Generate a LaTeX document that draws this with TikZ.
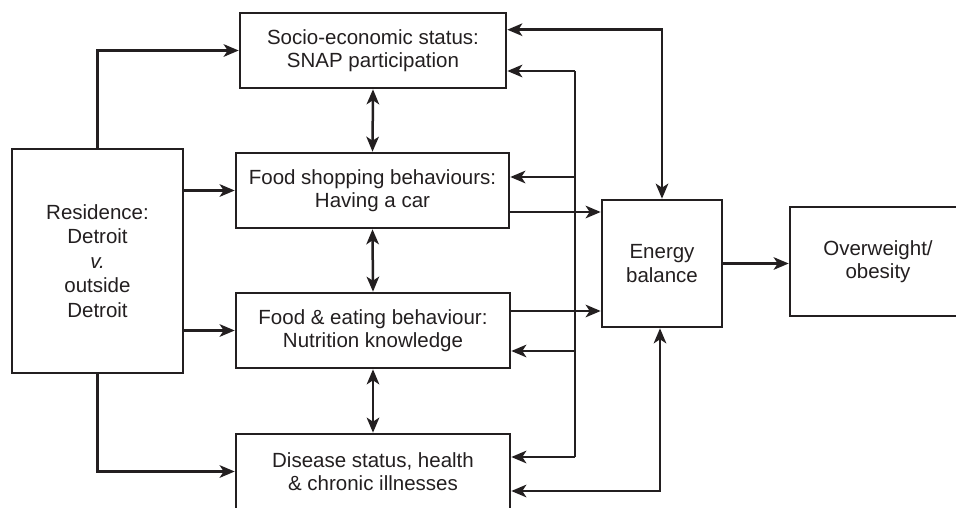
\documentclass[tikz,border=0pt]{standalone}
\usepackage{fontspec}
\setmainfont{Liberation Sans}
\usetikzlibrary{arrows.meta}
\definecolor{ink}{HTML}{231F20}
\begin{document}
\begin{tikzpicture}[x=1pt,y=-1pt,
  box/.style={draw=ink, line width=2.6pt, rectangle, align=center, text=ink,
    inner sep=0pt, font=\fontsize{20.5}{23.5}\selectfont},
  conn/.style={draw=ink, line width=2.5pt},
  tip/.style={-{Stealth[length=15pt,width=12.5pt,inset=4pt]}},
  tips/.style={{Stealth[length=15pt,width=12.5pt,inset=4pt]}-{Stealth[length=15pt,width=12.5pt,inset=4pt]}}]
\useasboundingbox (0,0) rectangle (956,507);
\clip (0,0) rectangle (956,507);
\fill[white] (0,0) rectangle (956,507);

\node[box, minimum width=266pt, minimum height=75pt] (ses) at (373,50.5) {Socio-economic status:\\SNAP participation};
\node[box, minimum width=273pt, minimum height=75pt] (fsb) at (372.5,190.5) {Food shopping behaviours:\\Having a car};
\node[box, minimum width=274pt, minimum height=75pt] (feb) at (373,330.5) {Food \& eating behaviour:\\Nutrition knowledge};
\node[box, minimum width=274pt, minimum height=75pt] (dis) at (373,471.5) {Disease status, health\\\& chronic illnesses};
\node[box, minimum width=171pt, minimum height=224pt, font=\fontsize{20.5}{24.5}\selectfont] (res) at (97.5,261) {Residence:\\Detroit\\\textit{v.}\\outside\\Detroit};
\node[box, minimum width=120pt, minimum height=127pt] (eb) at (662,263.5) {Energy\\balance};
\node[box, minimum width=176pt, minimum height=109pt] (ow) at (878,261.5) {Overweight/\\obesity};

% residence to the four boxes
\draw[conn, tip] (res.north) |- (ses.west);
\draw[conn, tip] (res.east |- fsb.west) -- (fsb.west);
\draw[conn, tip] (res.east |- feb.west) -- (feb.west);
\draw[conn, tip] (res.south) |- (dis.west);

% between the stacked boxes
\draw[conn, tips] (ses.south) -- (fsb.north);
\draw[conn, tips] (fsb.south) -- (feb.north);
\draw[conn, tips] (feb.south) -- (dis.north);

% SES <-> energy balance
\coordinate (s1) at ([yshift=-18pt]ses.north east);
\draw[conn, tips] (s1) -| (eb.north);

% vertical bus
\coordinate (b1) at (575,71);
\coordinate (b2) at (575,177);
\coordinate (b3) at (575,351);
\coordinate (b4) at (575,457);
\draw[conn] (b1) -- (b4);
\draw[conn, tip] (b1) -- (b1 -| ses.east);
\draw[conn, tip] (b2) -- (b2 -| fsb.east);
\draw[conn, tip] (b3) -- (b3 -| feb.east);
\draw[conn, tip] (b4) -- (b4 -| dis.east);

% into energy balance
\coordinate (f1) at ([yshift=-21.5pt]fsb.east);
\draw[conn, tip] (f1) -- (f1 -| eb.west);
\coordinate (e1) at ([yshift=19.5pt]feb.east);
\draw[conn, tip] (e1) -- (e1 -| eb.west);
\coordinate (d1) at ([yshift=-19.5pt]dis.east);
\draw[conn, tips] (d1) -| ([xshift=-2pt]eb.south);

% energy balance to outcome
\draw[conn, tip] (eb.east) -- (eb.east -| ow.west);
\end{tikzpicture}
\end{document}
